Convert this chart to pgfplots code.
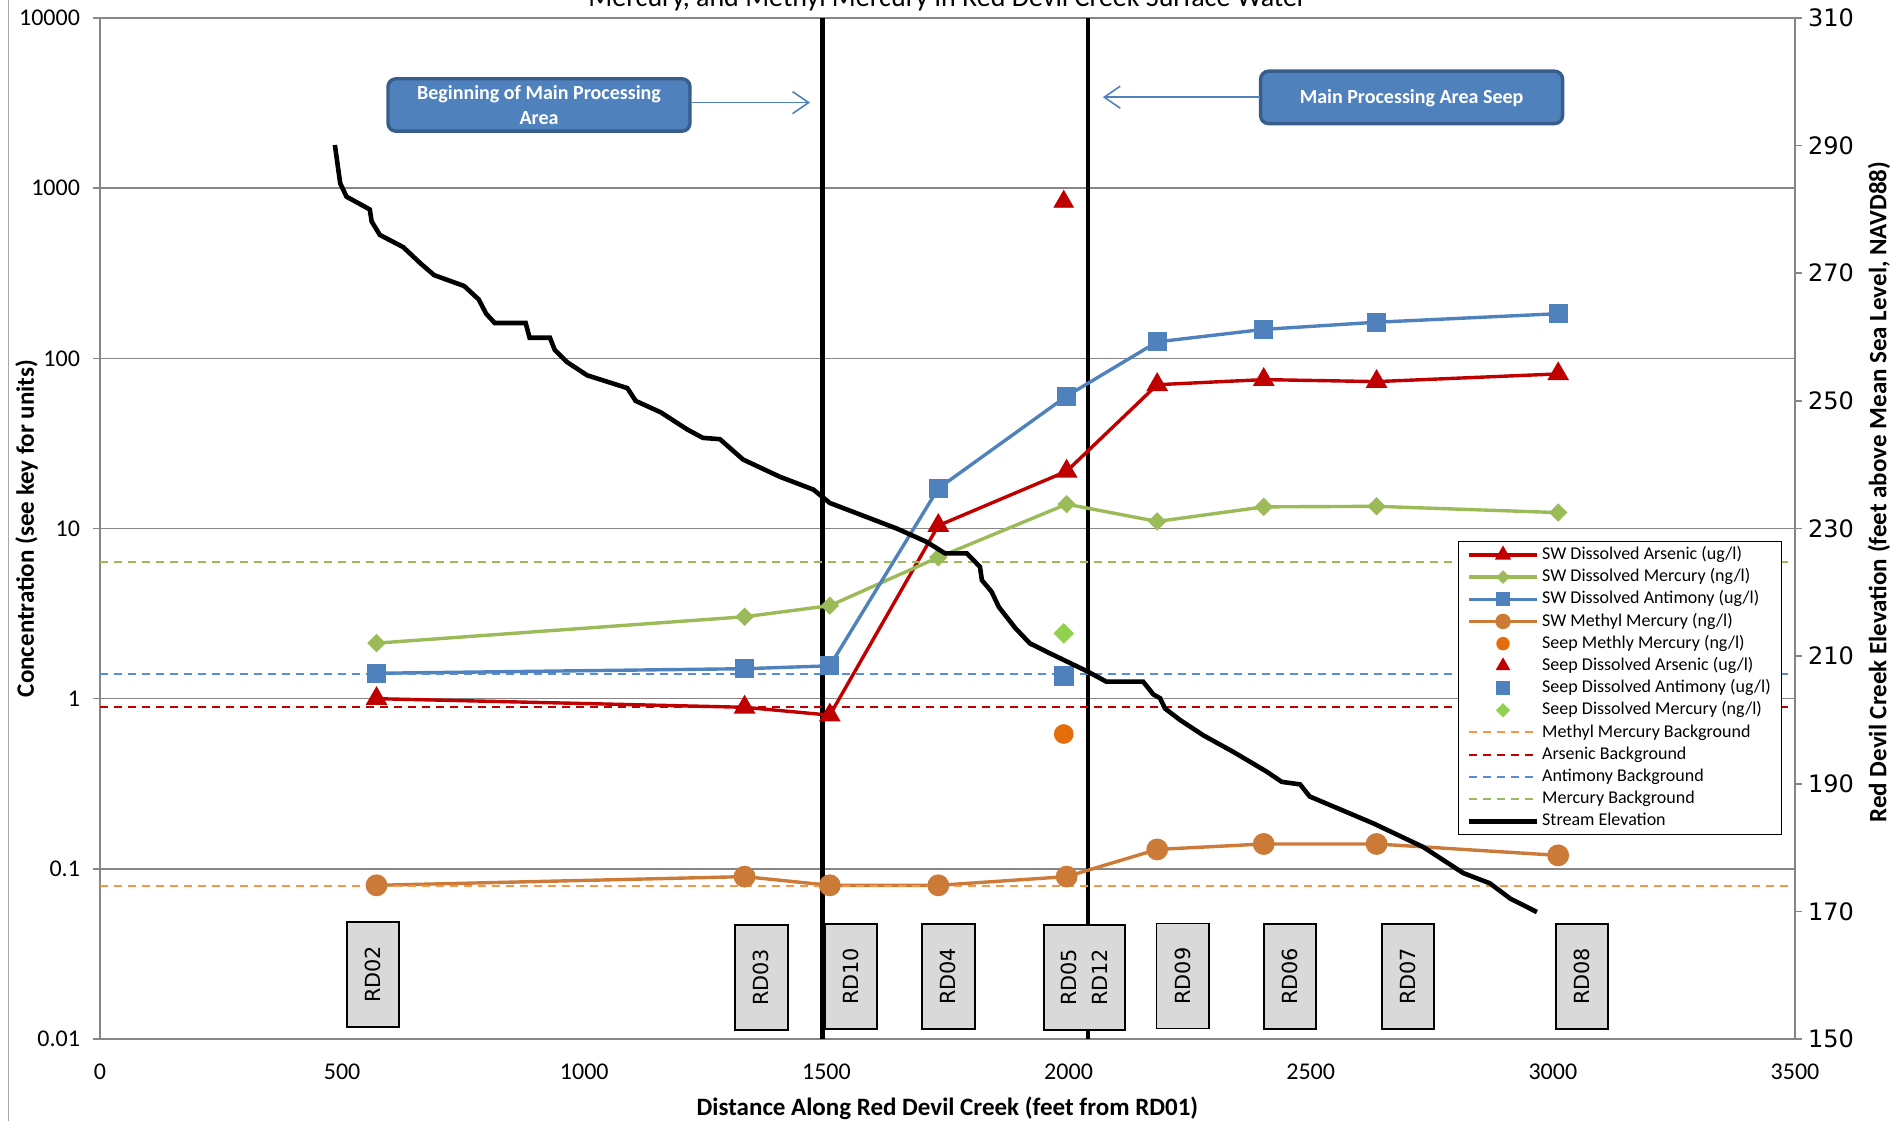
\documentclass[border=0pt]{standalone}
\usepackage{fontspec}
\setmainfont{Carlito}
\newfontfamily\dejavu{DejaVu Sans}
\usepackage{pgfplots}
\pgfplotsset{compat=1.18}
\usetikzlibrary{arrows.meta}
\definecolor{cAs}{HTML}{C00000}
\definecolor{cHg}{HTML}{9BBB59}
\definecolor{cHgSeep}{HTML}{92D050}
\definecolor{cSb}{HTML}{4F81BD}
\definecolor{cMe}{HTML}{CB7A37}
\definecolor{cMeSeep}{HTML}{E46C0A}
\definecolor{cMeBg}{HTML}{F79646}
\definecolor{cSbBg}{HTML}{558ED5}
\definecolor{cGrid}{HTML}{868686}
\definecolor{cBoxBorder}{HTML}{385D8A}
\definecolor{cStation}{HTML}{D9D9D9}
\pgfplotsset{
  legline/.style={legend image code/.code={\draw[mark repeat=2,mark phase=2,##1,every mark/.append style={scale=0.65}] plot coordinates {(0pt,0pt) (17pt,0pt) (34pt,0pt)};}},
  legmark/.style={legend image code/.code={\draw[##1,every mark/.append style={scale=0.65}] plot coordinates {(17pt,0pt)};}},
  bgline/.style={line width=1pt, dash pattern=on 4pt off 3pt, legline},
}
\begin{document}
\begin{tikzpicture}
\begin{axis}[
  at={(0pt,0pt)}, anchor=south west,
  scale only axis, width=847.5pt, height=510.5pt,
  xmin=0, xmax=3500, ymin=0.01, ymax=10000, ymode=log,
  xtick={0,500,...,3500},
  xticklabels={0,500,1000,1500,2000,2500,3000,3500},
  ytick={0.01,0.1,1,10,100,1000,10000},
  yticklabels={0.01,0.1,1,10,100,1000,10000},
  yminorticks=false,
  xtick pos=bottom, ytick pos=left,
  tick align=outside,
  major tick length=3.5pt,
  xtick style={draw=none},
  ytick style={cGrid, line width=0.8pt},
  ymajorgrids,
  major grid style={cGrid, line width=0.7pt},
  axis line style={cGrid, line width=0.8pt},
  ticklabel style={font=\fontsize{12}{14}\selectfont},
  xticklabel style={yshift=-5.4pt},
  yticklabel style={xshift=-3pt},
  xlabel={Distance Along Red Devil Creek (feet from RD01)},
  ylabel={Concentration (see key for units)},
  label style={font=\bfseries\fontsize{12.5}{15}\selectfont},
  xlabel style={at={(axis description cs:0.5,-0.068)}, anchor=center},
  ylabel style={at={(axis description cs:-0.0434,0.5)}, anchor=center},
  legend cell align=left,
  legend style={at={(axis description cs:0.8012,0.488)}, anchor=north west,
    draw=black, line width=0.6pt, fill=white,
    font=\fontsize{9}{11}\selectfont,
    inner xsep=4pt, inner ysep=1.2pt, row sep=0pt,
    nodes={inner sep=1.4pt, text height=6.5pt, text depth=1.8pt}},
]
% vertical markers
\addplot[black, line width=2.3pt, forget plot] coordinates {(1492,0.01) (1492,10000)};
\addplot[black, line width=2.3pt, forget plot] coordinates {(2040,0.01) (2040,10000)};

\addplot[cAs, line width=1.7pt, mark=triangle*, mark size=4.6pt, mark options={solid}, legline]
  coordinates {(571,1.0) (1331,0.89) (1507,0.80) (1731,10.4) (1996,21.7) (2183,70) (2403,75) (2636,73) (3011,81)};
\addlegendentry{SW Dissolved Arsenic (ug/l)}
\addplot[cHg, line width=1.7pt, mark=square*, mark size=2.4pt, mark options={solid, rotate=45}, legline]
  coordinates {(571,2.12) (1331,3.03) (1507,3.52) (1731,6.77) (1996,13.9) (2183,11.0) (2403,13.4) (2636,13.5) (3011,12.4)};
\addlegendentry{SW Dissolved Mercury (ng/l)}
\addplot[cSb, line width=1.7pt, mark=square*, mark size=3.9pt, mark options={solid}, legline]
  coordinates {(571,1.41) (1331,1.50) (1507,1.56) (1731,17.2) (1996,60) (2183,125) (2403,148) (2636,163) (3011,183)};
\addlegendentry{SW Dissolved Antimony (ug/l)}
\addplot[cMe, line width=1.7pt, mark=*, mark size=4.6pt, mark options={solid}, legline]
  coordinates {(571,0.08) (1331,0.09) (1507,0.08) (1731,0.08) (1996,0.09) (2183,0.13) (2403,0.14) (2636,0.14) (3011,0.12)};
\addlegendentry{SW Methyl Mercury (ng/l)}
\addplot[cMeSeep, only marks, mark=*, mark size=4.7pt, legmark]
  coordinates {(1990,0.62)};
\addlegendentry{Seep Methly Mercury (ng/l)}
\addplot[cAs, only marks, mark=triangle*, mark size=5.6pt, legmark]
  coordinates {(1990,833)};
\addlegendentry{Seep Dissolved Arsenic (ug/l)}
\addplot[cSb, only marks, mark=square*, mark size=4.7pt, legmark]
  coordinates {(1990,1.36)};
\addlegendentry{Seep Dissolved Antimony (ug/l)}
\addplot[cHgSeep, only marks, mark=square*, mark size=3.4pt, mark options={rotate=45}, legmark]
  coordinates {(1990,2.42)};
\addlegendentry{Seep Dissolved Mercury (ng/l)}
\addplot[cMeBg, bgline] coordinates {(0,0.079) (3500,0.079)};
\addlegendentry{Methyl Mercury Background}
\addplot[cAs, bgline] coordinates {(0,0.893) (3500,0.893)};
\addlegendentry{Arsenic Background}
\addplot[cSbBg, bgline] coordinates {(0,1.40) (3500,1.40)};
\addlegendentry{Antimony Background}
\addplot[cHg, bgline] coordinates {(0,6.33) (3500,6.33)};
\addlegendentry{Mercury Background}
\addlegendimage{black, line width=2.4pt, legline}
\addlegendentry{Stream Elevation}
\end{axis}

\begin{axis}[
  at={(0pt,0pt)}, anchor=south west,
  scale only axis, width=847.5pt, height=510.5pt,
  xmin=0, xmax=3500, ymin=150, ymax=310,
  axis x line=none, axis y line*=right,
  ytick={150,170,...,310},
  yticklabels={150,170,190,210,230,250,270,290,310},
  tick align=outside, major tick length=3.5pt,
  ytick style={cGrid, line width=0.8pt},
  axis line style={cGrid, line width=0.8pt},
  yticklabel style={font=\dejavu\fontsize{12}{14}\selectfont, xshift=-0.5pt},
  ylabel={Red Devil Creek Elevation (feet above Mean Sea Level, NAVD88)},
  ylabel style={font=\bfseries\fontsize{12.5}{15}\selectfont, at={(axis description cs:1.0496,0.5357)}, anchor=center},
]
\addplot[black, line width=2.3pt] coordinates {
(485,290.1) (496,284.1) (509,282.0) (557,280.0) (561,278.1) (578,276.0) (626,274.1) (661,271.6)
(690,269.7) (752,268.0) (782,265.9) (797,263.7) (815,262.2) (879,262.2) (887,259.9) (929,259.9)
(939,258.0) (964,256.1) (1006,254.0) (1089,252.0) (1106,250.0) (1158,248.2) (1213,245.5) (1245,244.2)
(1280,244.0) (1328,240.8) (1404,238.1) (1473,236.1) (1507,234.0) (1645,230.0) (1707,227.9) (1745,226.1)
(1790,226.1) (1817,224.0) (1821,221.9) (1841,220.1) (1856,217.7) (1890,214.4) (1920,212.0) (1968,210.2)
(2039,207.6) (2078,206.0) (2154,206.0) (2175,204.0) (2189,203.4) (2199,201.8) (2230,200.0) (2278,197.6)
(2340,195.0) (2409,191.9) (2440,190.3) (2478,189.9) (2498,188.0) (2629,183.8) (2732,180.1) (2815,176.0)
(2870,174.4) (2912,172.0) (2967,169.9)};
\end{axis}

% station label boxes
\tikzset{station/.style={draw=black, line width=0.9pt, fill=cStation, rotate=90,
  minimum width=52.5pt, minimum height=26.2pt, inner sep=0pt,
  font=\dejavu\fontsize{10.4}{15.5}\selectfont, align=center}}
\node[station] at (136.4pt,32.3pt) {RD02};
\node[station] at (330.7pt,30.8pt) {RD03};
\node[station] at (375.4pt,31.3pt) {RD10};
\node[station] at (424.2pt,31.3pt) {RD04};
\node[station, minimum height=40.4pt] at (492.1pt,30.8pt) {RD05\\RD12};
\node[station] at (541.3pt,31.5pt) {RD09};
\node[station] at (595.0pt,31.3pt) {RD06};
\node[station] at (654.0pt,31.3pt) {RD07};
\node[station] at (740.9pt,31.3pt) {RD08};

% callouts
\tikzset{callout/.style={draw=cBoxBorder, line width=1.7pt, fill=cSb, rounded corners=4pt,
  text=white, font=\bfseries\fontsize{10}{12.5}\selectfont, align=center,
  minimum width=151pt, minimum height=26.2pt, inner sep=1pt}}
\node[callout] at (219.5pt,467pt) {Beginning of Main Processing\\Area};
\node[callout, text depth=1pt] at (655.8pt,470.8pt) {Main Processing Area Seep};
\draw[cSb, line width=0.8pt, -{Straight Barb[length=8pt,width=11pt]}] (296pt,468.2pt) -- (355pt,468.2pt);
\draw[cSb, line width=0.8pt, -{Straight Barb[length=8pt,width=11pt]}] (580pt,470.9pt) -- (501.4pt,470.9pt);

% title (top partly cut like the reference)
\node[anchor=base, font=\fontsize{14}{16}\selectfont] at (423.75pt,516pt) {Mercury, and Methyl Mercury in Red Devil Creek Surface Water};

% chart border line at left
\draw[color=black!35, line width=0.8pt] (-45.8pt,-41pt) -- (-45.8pt,519.5pt);

\pgfresetboundingbox
\path[use as bounding box] (-50pt,-41pt) rectangle (896pt,519.5pt);
\end{tikzpicture}
\end{document}
